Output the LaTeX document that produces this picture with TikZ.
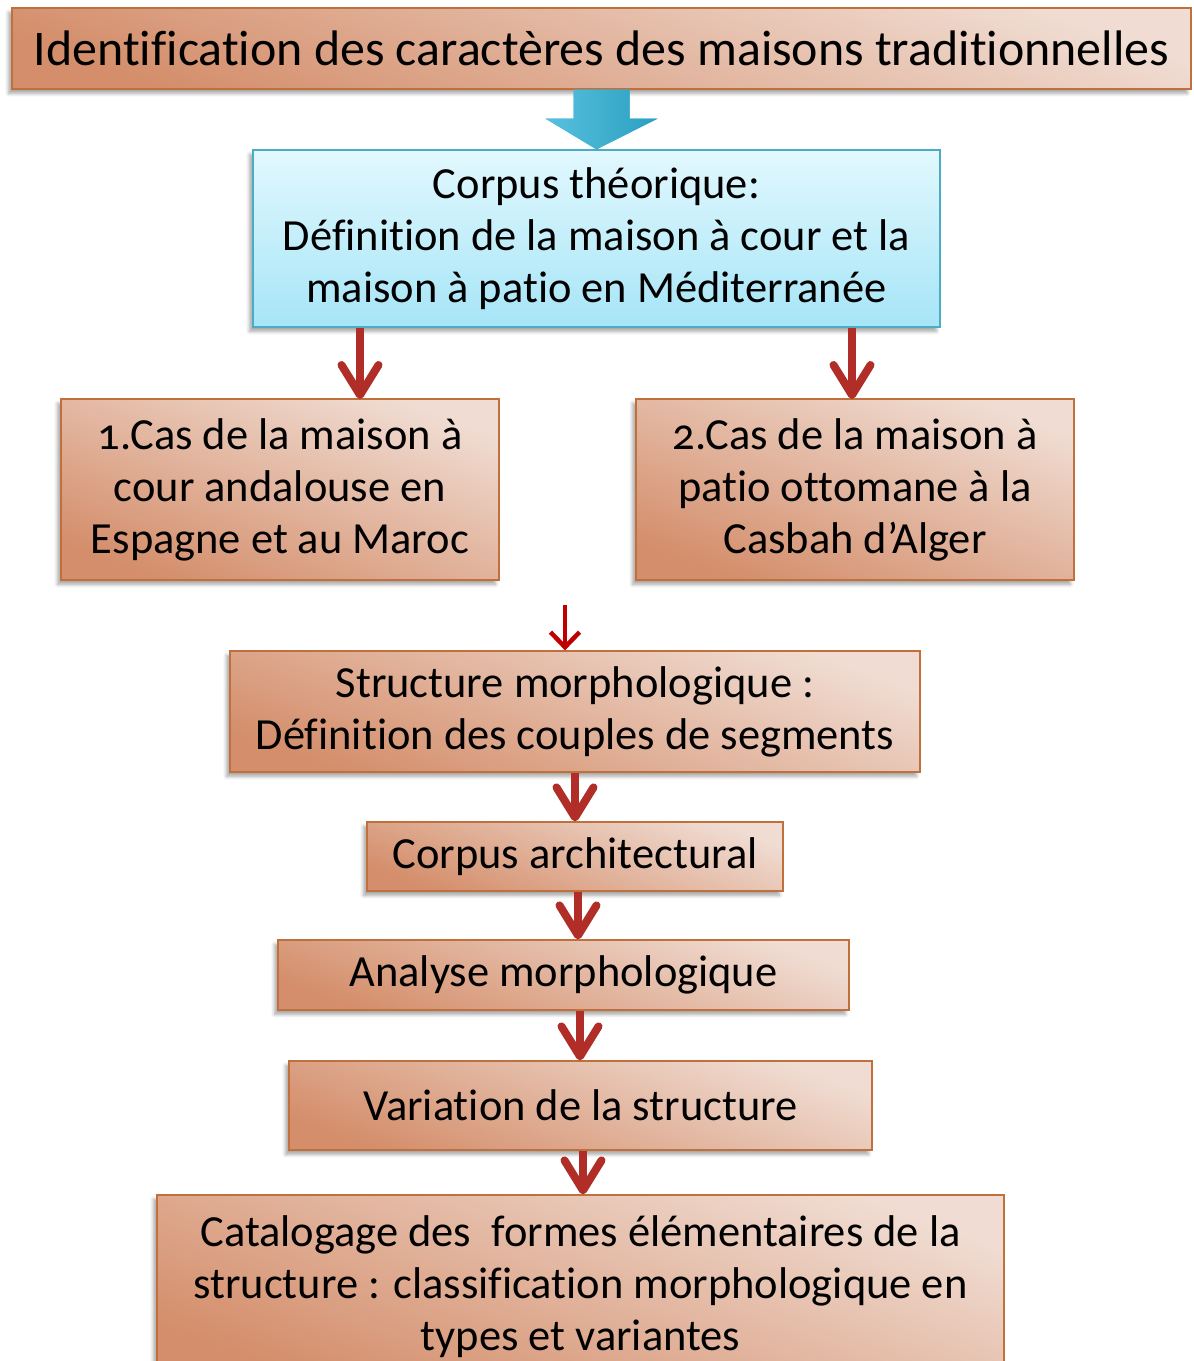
\documentclass[tikz,border=0pt]{standalone}
\usepackage{fontspec}
\setmainfont[Ligatures=NoCommon, Numbers=OldStyle]{Carlito}
\usetikzlibrary{arrows.meta,calc,shadows.blur}

\definecolor{boxtop}{HTML}{F0DCD2}
\definecolor{boxbot}{HTML}{D48E6B}
\definecolor{boxline}{HTML}{C0703C}
\definecolor{bluetop}{HTML}{E2F8FE}
\definecolor{bluebot}{HTML}{A6E5F7}
\definecolor{blueline}{HTML}{4BACC6}
\definecolor{arrowred}{HTML}{B02E27}
\definecolor{brightred}{HTML}{C00000}
\definecolor{arrowblue}{HTML}{2FB1D6}

\tikzset{
    size/.style 2 args={minimum width=#1*0.2mm, minimum height=#2*0.2mm},
    pbox/.style={draw=boxline, line width=0.7pt, top color=boxtop, bottom color=boxbot,
        shading angle=-20, align=center, inner sep=0pt,
        blur shadow={shadow xshift=-2pt, shadow yshift=-2.5pt, shadow opacity=35, shadow blur steps=6},
        font=\fontsize{25.3}{29.6}\selectfont},
    bbox/.style={pbox, draw=blueline, top color=bluetop, bottom color=bluebot, shading angle=0},
    redarrow/.style={draw=arrowred, line width=1.6mm,
        -{Straight Barb[round, length=6mm, width=7.4mm]}},
    thinarrow/.style={draw=brightred, line width=0.9mm,
        -{Straight Barb[length=3mm, width=5.8mm]}}
}

\begin{document}
\begin{tikzpicture}[x=0.2mm, y=-0.2mm]
    \useasboundingbox (0,0) rectangle (1193,1361);

    % Top box
    \node[pbox, size={1179}{81}, font=\fontsize{28.4}{32}\selectfont] (ident) at (601.5,48.5)
        {Identification des caractères des maisons traditionnelles};

    % Theoretical corpus
    \node[bbox, size={687}{177}] (corpus) at (596.5,238.5)
        {Corpus théorique:\\ Définition de la maison à cour et la\\ maison à patio en Méditerranée};

    % Blue block arrow
    \fill[arrowblue, shading=axis, left color=arrowblue!80!white, right color=arrowblue!90!black]
        ($(ident.south)+(-28,0)$) -- ($(ident.south)+(28,0)$) -- ($(ident.south)+(28,29)$)
        -- ($(ident.south)+(56,29)$) -- (corpus.north) -- ($(ident.south)+(-56,29)$)
        -- ($(ident.south)+(-28,29)$) -- cycle;

    % Two cases
    \node[pbox, size={438}{181}] (cas1) at (280,489.5)
        {1.Cas de la maison à\\ cour andalouse en\\ Espagne et au Maroc};
    \node[pbox, size={438}{181}] (cas2) at (855,489.5)
        {2.Cas de la maison à\\ patio ottomane à la\\ Casbah d’Alger};

    \coordinate (in1) at (360,399);
    \coordinate (in2) at (852,399);
    \draw[redarrow] (corpus.south -| in1) -- (in1);
    \draw[redarrow] (corpus.south -| in2) -- (in2);

    % Chain of steps
    \node[pbox, size={690}{121}] (struct) at (575,711.5)
        {Structure morphologique :\\ Définition des couples de segments};
    \node[pbox, size={416}{69}] (archi) at (575,856.5) {Corpus architectural};
    \node[pbox, size={571}{70}] (analyse) at (563.5,975) {Analyse morphologique};
    \node[pbox, size={583}{89}] (variation) at (580.5,1105.5) {Variation de la structure};
    \node[pbox, size={847}{183}] (catalog) at (580.5,1286.5)
        {Catalogage des\ \ formes élémentaires de la\\ structure : classification morphologique en\\ types et variantes};

    \coordinate (top) at (565,605);
    \draw[thinarrow] (top) -- (top |- struct.north);

    \draw[redarrow] (struct.south -| 575,0) -- (archi.north -| 575,0);
    \draw[redarrow] (archi.south -| 578,0) -- (analyse.north -| 578,0);
    \draw[redarrow] (analyse.south -| 580,0) -- (variation.north -| 580,0);
    \draw[redarrow] (variation.south -| 583,0) -- (catalog.north -| 583,0);
\end{tikzpicture}
\end{document}
